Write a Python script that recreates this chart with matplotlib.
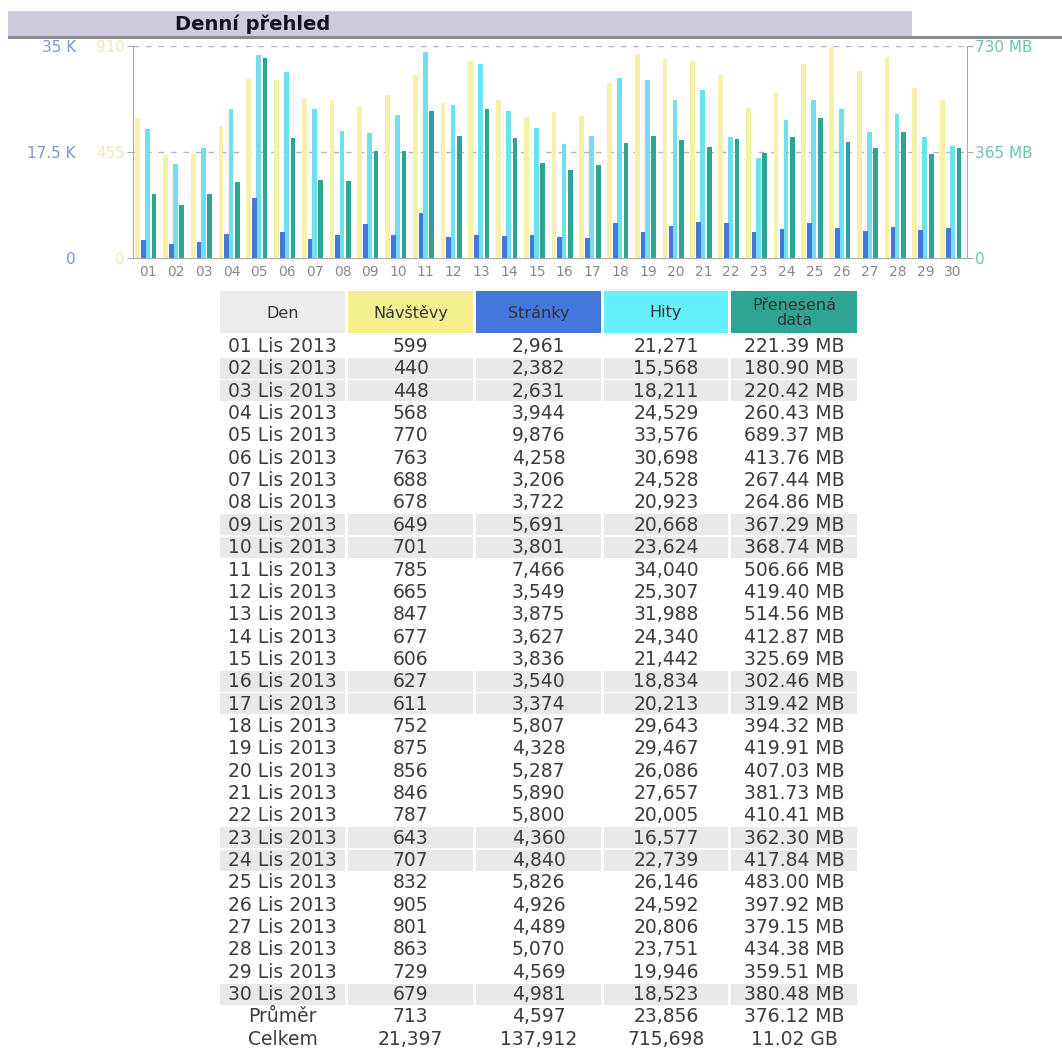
import numpy as np
import matplotlib
matplotlib.use("Agg")
import matplotlib.pyplot as plt
from matplotlib.patches import Rectangle

days = [f"{d:02d}" for d in range(1, 31)]
dates = [f"{d} Lis 2013" for d in days]
visits = [599, 440, 448, 568, 770, 763, 688, 678, 649, 701, 785, 665, 847, 677, 606,
          627, 611, 752, 875, 856, 846, 787, 643, 707, 832, 905, 801, 863, 729, 679]
pages = [2961, 2382, 2631, 3944, 9876, 4258, 3206, 3722, 5691, 3801, 7466, 3549, 3875, 3627, 3836,
         3540, 3374, 5807, 4328, 5287, 5890, 5800, 4360, 4840, 5826, 4926, 4489, 5070, 4569, 4981]
hits = [21271, 15568, 18211, 24529, 33576, 30698, 24528, 20923, 20668, 23624, 34040, 25307, 31988, 24340, 21442,
        18834, 20213, 29643, 29467, 26086, 27657, 20005, 16577, 22739, 26146, 24592, 20806, 23751, 19946, 18523]
bandwidth_mb = [221.39, 180.90, 220.42, 260.43, 689.37, 413.76, 267.44, 264.86, 367.29, 368.74,
                506.66, 419.40, 514.56, 412.87, 325.69, 302.46, 319.42, 394.32, 419.91, 407.03,
                381.73, 410.41, 362.30, 417.84, 483.00, 397.92, 379.15, 434.38, 359.51, 380.48]
weekend_days = [2, 3, 9, 10, 16, 17, 23, 24, 30]
summary_rows = [
    ["Průměr", "713", "4,597", "23,856", "376.12 MB"],
    ["Celkem", "21,397", "137,912", "715,698", "11.02 GB"],
]
headers = ["Den", "Návštěvy", "Stránky", "Hity", "Přenesená\ndata"]

visits_max, hits_max, bw_max = 910, 35000, 730

C_VIS, C_PAG, C_HIT, C_BW = "#f5f1a8", "#4477dd", "#70dfee", "#2ea495"
HEAD_COLORS = ["#ececec", "#f4f090", "#4477dd", "#66eefa", "#2ea495"]

W, H = 1062, 1050
fig = plt.figure(figsize=(W / 100, H / 100), dpi=100)

# overlay in pixel coords for title bar + table
ov = fig.add_axes([0, 0, 1, 1])
ov.set_xlim(0, W)
ov.set_ylim(H, 0)
ov.axis("off")
ov.set_zorder(-1)
ov.add_patch(Rectangle((8, 11), 904, 25, color="#ccccdd", lw=0))
ov.add_patch(Rectangle((8, 36), W - 8, 2.5, color="#8a8a8a", lw=0))
ov.text(175, 24, "Denní přehled", fontsize=14, fontweight="bold", color="#111122",
        va="center", ha="left")

# chart
left_px, right_px, top_px, bot_px = 133, 967, 46, 258
ax = fig.add_axes([left_px / W, 1 - bot_px / H, (right_px - left_px) / W, (bot_px - top_px) / H])
ax_h = ax.twinx()
ax_b = ax.twinx()
x = np.arange(1, 31)
bw = 0.17
ax.bar(x - 0.38, visits, width=bw, color=C_VIS, zorder=2)
ax_h.bar(x - 0.02, hits, width=bw, color=C_HIT, zorder=2)
ax_h.bar(x - 0.17, pages, width=bw, color=C_PAG, zorder=3)
ax_b.bar(x + 0.21, bandwidth_mb, width=bw, color=C_BW, zorder=2)

for a in (ax, ax_h, ax_b):
    a.set_xlim(0.45, 30.5)
    for s in a.spines.values():
        s.set_visible(False)
ax.set_ylim(0, visits_max)
ax_h.set_ylim(0, hits_max)
ax_b.set_ylim(0, bw_max)
ax.spines["left"].set_visible(True)
ax.spines["left"].set_color("#aaaaaa")
ax.spines["bottom"].set_visible(True)
ax.spines["bottom"].set_color("#aaaaaa")
ax_b.spines["right"].set_visible(True)
ax_b.spines["right"].set_color("#aaaaaa")

for yv in (visits_max / 2, visits_max):
    ax.axhline(yv, color="#b5b5b5", lw=1, ls=(0, (4, 5)), zorder=1)

ax.set_yticks([0, visits_max / 2, visits_max])
ax.set_yticklabels(["0", "455", "910"], color="#efeab0", fontsize=11)
ax.tick_params(axis="y", length=4, color="#aaaaaa", pad=2)

ax_h.yaxis.tick_left()
ax_h.set_yticks([0, hits_max / 2, hits_max])
ax_h.set_yticklabels(["0", "17.5 K", "35 K"], color="#7b94d4", fontsize=11)
ax_h.tick_params(axis="y", length=0, pad=41)

ax_b.set_yticks([0, bw_max / 2, bw_max])
ax_b.set_yticklabels(["0", "365 MB", "730 MB"], color="#6cc2b3", fontsize=11)
ax_b.tick_params(axis="y", length=4, color="#aaaaaa", pad=2)

ax.set_xticks(x)
ax.set_xticklabels(days, color="#888888", fontsize=10)
ax.tick_params(axis="x", length=0, pad=5)

# table
col_x = [(220, 345), (348, 473), (476, 601), (604, 728), (731, 857)]
for (x0, x1), label, col in zip(col_x, headers, HEAD_COLORS):
    ov.add_patch(Rectangle((x0, 291), x1 - x0, 42, color=col, lw=0))
    ov.text((x0 + x1) / 2, 313, label, ha="center", va="center", fontsize=11.5,
            color="#333333", linespacing=0.95)

rows = []
for i in range(30):
    rows.append([dates[i], f"{visits[i]:,}", f"{pages[i]:,}", f"{hits[i]:,}",
                 f"{bandwidth_mb[i]:.2f} MB"])
rows += summary_rows

row_h = 22.35
for r, row in enumerate(rows):
    yc = 346 + r * row_h
    if r < 30 and (r + 1) in weekend_days:
        for x0, x1 in col_x:
            ov.add_patch(Rectangle((x0, yc - 10.5), x1 - x0, 21, color="#e9e9e9", lw=0))
    for (x0, x1), txt in zip(col_x, row):
        ov.text((x0 + x1) / 2, yc + 0.5, txt, ha="center", va="center", fontsize=13.5,
                color="#3c3c3c")

fig.savefig("out.png", dpi=100, facecolor="white")
